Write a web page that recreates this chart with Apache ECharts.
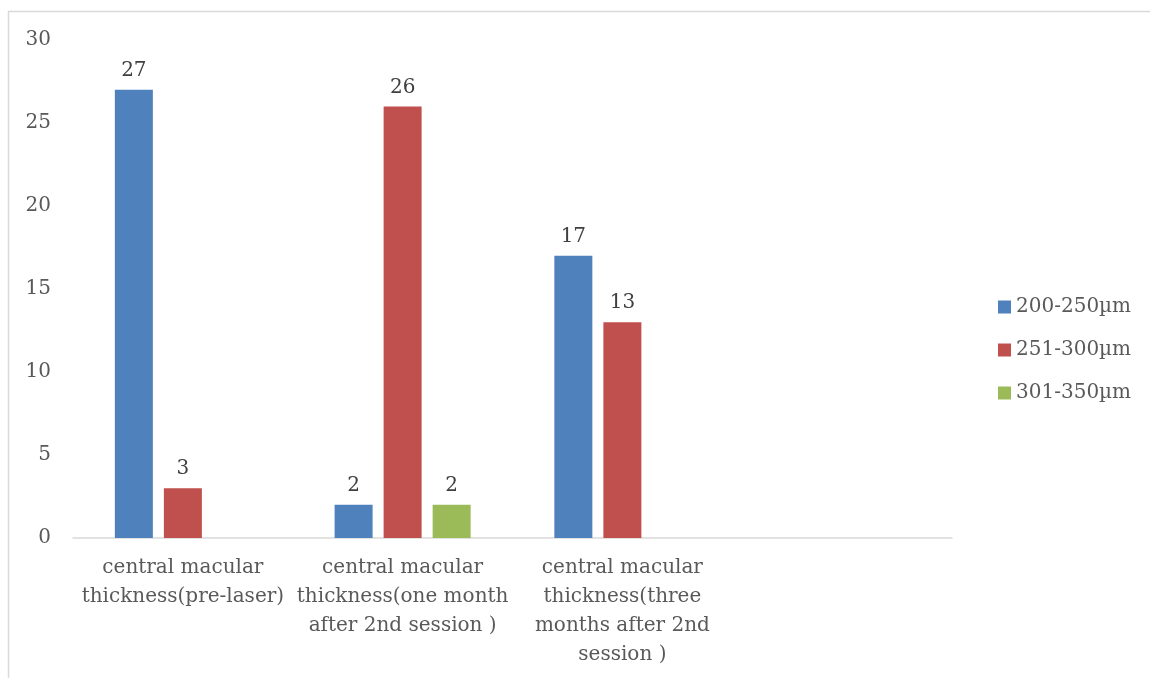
<!DOCTYPE html>
<html>
<head>
<meta charset="utf-8">
<title>central macular thickness</title>
<script src="https://cdn.jsdelivr.net/npm/echarts@6/dist/echarts.min.js"></script>
<style>
    html, body { margin: 0; padding: 0; background: #fff; overflow: hidden; }
    #main { width: 1150px; height: 678px; }
</style>
</head>
<body>
<div id="main"></div>
<script>
// 类别与数据
var categories = [
    'central macular\nthickness(pre-laser)',
    'central macular\nthickness(one month\nafter 2nd session )',
    'central macular\nthickness(three\nmonths after 2nd\nsession )',
    ''
];
var seriesNames = ['200-250µm', '251-300µm', '301-350µm'];
var thin = [27, 2, 17, null];
var mid = [3, 26, 13, null];
var thick = [null, 2, null, null];
var yTicks = { min: 0, max: 30, interval: 5 };

(function () {
    var myChart = echarts.init(document.getElementById('main'));
    var font = '"DejaVu Serif", serif';

    function bar(name, data, color) {
        return {
            name: name,
            type: 'bar',
            barWidth: 38,
            barGap: '29%',
            data: data,
            itemStyle: { color: color },
            label: {
                show: true,
                position: 'top',
                distance: 9,
                color: '#404040',
                fontFamily: font,
                fontSize: 20
            }
        };
    }

    var option = {
        animation: false,
        color: ['#4f81bd', '#c0504d', '#9bbb59'],
        // 外框：只有左边和上边
        graphic: [{
            type: 'polyline',
            shape: { points: [[8.5, 678], [8.5, 11.5], [1150, 11.5]] },
            style: { fill: 'none', stroke: '#d9d9d9', lineWidth: 1.5 },
            silent: true
        }],
        grid: {
            left: 73,
            right: 198,
            top: 40,
            bottom: 140
        },
        legend: {
            orient: 'vertical',
            left: 993,
            top: 292,
            itemWidth: 13,
            itemHeight: 13,
            itemGap: 23,
            icon: 'rect',
            data: seriesNames,
            textStyle: {
                color: '#595959',
                fontFamily: font,
                fontSize: 20
            }
        },
        xAxis: {
            type: 'category',
            data: categories,
            axisTick: { show: false },
            axisLine: { lineStyle: { color: '#d9d9d9', width: 1.5 } },
            axisLabel: {
                interval: 0,
                margin: 15,
                color: '#595959',
                fontFamily: font,
                fontSize: 20,
                lineHeight: 29,
                align: 'center'
            }
        },
        yAxis: {
            type: 'value',
            min: yTicks.min,
            max: yTicks.max,
            interval: yTicks.interval,
            splitLine: { show: false },
            axisLine: { show: false },
            axisTick: { show: false },
            axisLabel: {
                margin: 22,
                color: '#595959',
                fontFamily: font,
                fontSize: 20
            }
        },
        series: [
            bar(seriesNames[0], thin, '#4f81bd'),
            bar(seriesNames[1], mid, '#c0504d'),
            bar(seriesNames[2], thick, '#9bbb59')
        ]
    };
    myChart.setOption(option);
    window.addEventListener('resize', function () {
        myChart.resize();
    });
})();
</script>
</body>
</html>
